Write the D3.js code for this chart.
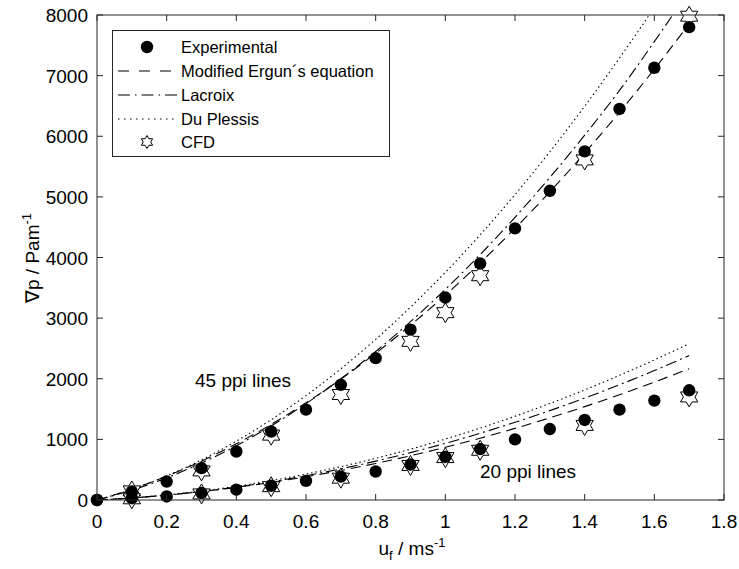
<!DOCTYPE html>
<html>
<head>
<meta charset="utf-8">
<script src="https://cdn.jsdelivr.net/npm/d3@7"></script>
<style>
  body { margin: 0; background: #fff; }
  text { font-family: Arial, "Liberation Sans", sans-serif; fill: #000; }
</style>
</head>
<body>
<svg width="739" height="569"></svg>
<script>
// Superficial velocity values (m/s)
var uAll = [0, 0.1, 0.2, 0.3, 0.4, 0.5, 0.6, 0.7, 0.8, 0.9, 1.0, 1.1, 1.2, 1.3, 1.4, 1.5, 1.6, 1.7];
var uCfd = [0.1, 0.3, 0.5, 0.7, 0.9, 1.0, 1.1, 1.4, 1.7];

// Experimental pressure drop (Pa/m)
var exp45 = [0, 140, 305, 525, 800, 1130, 1490, 1900, 2340, 2810, 3340, 3900, 4480, 5100, 5750, 6450, 7130, 7800];
var exp20 = [0, 30, 58, 115, 170, 235, 315, 385, 470, 585, 710, 840, 1000, 1170, 1320, 1490, 1640, 1810];

// CFD results
var cfd45 = [150, 480, 1070, 1740, 2617, 3090, 3700, 5610, 7980];
var cfd20 = [20, 100, 220, 360, 570, 700, 820, 1230, 1700];

// Model curves, 45 ppi
var ergun45 = [0, 179, 393, 642, 927, 1247, 1603, 1994, 2420, 2882, 3379, 3912, 4480, 5083, 5722, 6396, 7106, 7851];
var lacroix45 = [0, 162, 365, 610, 895, 1222, 1590, 1999, 2450, 2941, 3474, 4048, 4663, 5320, 6017, 6756, 7560, 8400];
var plessis45 = [0, 177, 397, 662, 971, 1325, 1722, 2164, 2650, 3181, 3755, 4374, 5037, 5744, 6495, 7291, 8131, 9083];

// Model curves, 20 ppi
var ergun20 = [0, 35, 81, 139, 209, 290, 383, 487, 603, 730, 869, 1019, 1181, 1355, 1540, 1737, 1945, 2165];
var lacroix20 = [0, 33, 80, 140, 214, 300, 400, 514, 641, 781, 934, 1101, 1281, 1474, 1681, 1901, 2135, 2382];
var plessis20 = [0, 35, 84, 148, 227, 320, 428, 550, 687, 839, 1005, 1186, 1381, 1592, 1816, 2056, 2310, 2578];

var xTicks = [0, 0.2, 0.4, 0.6, 0.8, 1, 1.2, 1.4, 1.6, 1.8];
var yTicks = [0, 1000, 2000, 3000, 4000, 5000, 6000, 7000, 8000];

var legendNames = ["Experimental", "Modified Ergun\u00b4s equation", "Lacroix", "Du Plessis", "CFD"];

var svg = d3.select("svg"),
    margin = {left: 97, top: 15, right: 15, bottom: 69},
    width = 739 - margin.left - margin.right,
    height = 569 - margin.top - margin.bottom;

var x = d3.scaleLinear().domain([0, 1.8]).range([0, width]);
var y = d3.scaleLinear().domain([0, 8000]).range([height, 0]);

var g = svg.append("g")
    .attr("transform", "translate(" + margin.left + "," + margin.top + ")");

g.append("clipPath").attr("id", "plotclip")
  .append("rect").attr("width", width).attr("height", height);

// Line styles for the three models (plot, legend)
var styles = {
  ergun: ["10,6", "11,10"],
  lacroix: ["11,4,2,4", "12,5,1.5,5"],
  plessis: ["1.5,3", "1.5,4.5"]
};

var line = d3.line()
    .x(function(d) { return x(d[0]); })
    .y(function(d) { return y(d[1]); })
    .curve(d3.curveMonotoneX);

function pairs(us, vs) {
  return us.map(function(u, i) { return [u, vs[i]]; });
}

var curves = [
  {v: ergun45, s: styles.ergun[0]}, {v: lacroix45, s: styles.lacroix[0]}, {v: plessis45, s: styles.plessis[0]},
  {v: ergun20, s: styles.ergun[0]}, {v: lacroix20, s: styles.lacroix[0]}, {v: plessis20, s: styles.plessis[0]}
];

g.append("g")
    .attr("clip-path", "url(#plotclip)")
  .selectAll("path")
  .data(curves)
  .enter().append("path")
    .attr("d", function(d) { return line(pairs(uAll, d.v)); })
    .attr("fill", "none")
    .attr("stroke", "#000")
    .attr("stroke-width", 1.1)
    .attr("stroke-dasharray", function(d) { return d.s; });

// Six pointed star outline
function hexagram(R) {
  var r = R / Math.sqrt(3), pts = [];
  for (var i = 0; i < 12; i++) {
    var a = -Math.PI / 2 + i * Math.PI / 6, rr = i % 2 ? r : R;
    pts.push([rr * Math.cos(a), rr * Math.sin(a)]);
  }
  return "M" + pts.join("L") + "Z";
}

var cfdPts = pairs(uCfd, cfd45).concat(pairs(uCfd, cfd20));
g.append("g").selectAll("path")
  .data(cfdPts)
  .enter().append("path")
    .attr("d", hexagram(10))
    .attr("transform", function(d) { return "translate(" + x(d[0]) + "," + y(d[1]) + ")"; })
    .attr("fill", "#fff")
    .attr("stroke", "#000")
    .attr("stroke-width", 1);

var expPts = pairs(uAll, exp45).concat(pairs(uAll, exp20));
g.append("g").selectAll("circle")
  .data(expPts)
  .enter().append("circle")
    .attr("cx", function(d) { return x(d[0]); })
    .attr("cy", function(d) { return y(d[1]); })
    .attr("r", 6.2)
    .attr("fill", "#000");

// Frame with inward ticks on every side
var axisColor = "#262626";
g.append("rect")
    .attr("width", width).attr("height", height)
    .attr("fill", "none").attr("stroke", axisColor).attr("stroke-width", 1);

var tl = 6;
var ticks = g.append("g").attr("stroke", axisColor).attr("stroke-width", 1);
xTicks.forEach(function(t) {
  ticks.append("line").attr("x1", x(t)).attr("x2", x(t)).attr("y1", height).attr("y2", height - tl);
  ticks.append("line").attr("x1", x(t)).attr("x2", x(t)).attr("y1", 0).attr("y2", tl);
});
yTicks.forEach(function(t) {
  ticks.append("line").attr("x1", 0).attr("x2", tl).attr("y1", y(t)).attr("y2", y(t));
  ticks.append("line").attr("x1", width).attr("x2", width - tl).attr("y1", y(t)).attr("y2", y(t));
});

g.append("g").selectAll("text")
  .data(xTicks)
  .enter().append("text")
    .attr("x", function(d) { return x(d); })
    .attr("y", height + 28)
    .attr("text-anchor", "middle")
    .attr("font-size", 19)
    .text(function(d) { return d; });

g.append("g").selectAll("text")
  .data(yTicks)
  .enter().append("text")
    .attr("x", -9)
    .attr("y", function(d) { return y(d) + 7; })
    .attr("text-anchor", "end")
    .attr("font-size", 19)
    .text(function(d) { return d; });

// Axis titles
var xl = svg.append("text")
    .attr("x", 412).attr("y", 555)
    .attr("text-anchor", "middle")
    .attr("font-size", 19);
xl.append("tspan").text("u");
xl.append("tspan").attr("dy", 5).attr("font-size", 13).text("f");
xl.append("tspan").attr("dy", -5).text(" / ms");
xl.append("tspan").attr("dy", -8).attr("font-size", 13).text("-1");

var yl = svg.append("text")
    .attr("transform", "translate(39,258) rotate(-90)")
    .attr("text-anchor", "middle")
    .attr("font-size", 19);
yl.append("tspan").text("\u2207p / Pam");
yl.append("tspan").attr("dy", -8).attr("font-size", 13).text("-1");

// Annotations
svg.append("text").attr("x", 195).attr("y", 387).attr("font-size", 19).text("45 ppi lines");
svg.append("text").attr("x", 480).attr("y", 478).attr("font-size", 19).text("20 ppi lines");

// Legend
var legend = svg.append("g");
legend.append("rect")
    .attr("x", 112.5).attr("y", 30.5).attr("width", 277).attr("height", 126)
    .attr("fill", "#fff").attr("stroke", axisColor).attr("stroke-width", 1);

var rowY = [47, 71, 95, 119, 142];
legendNames.forEach(function(name, i) {
  legend.append("text")
      .attr("x", 181).attr("y", rowY[i] + 6)
      .attr("font-size", 16.5)
      .text(name);
});
legend.append("circle").attr("cx", 147).attr("cy", rowY[0]).attr("r", 6.2).attr("fill", "#000");
[styles.ergun[1], styles.lacroix[1], styles.plessis[1]].forEach(function(s, i) {
  legend.append("line")
      .attr("x1", 118).attr("x2", 177)
      .attr("y1", rowY[i + 1]).attr("y2", rowY[i + 1])
      .attr("stroke", "#000").attr("stroke-width", 1.1)
      .attr("stroke-dasharray", s);
});
legend.append("path")
    .attr("d", hexagram(6.5))
    .attr("transform", "translate(147," + rowY[4] + ")")
    .attr("fill", "#fff").attr("stroke", "#000");
</script>
</body>
</html>
